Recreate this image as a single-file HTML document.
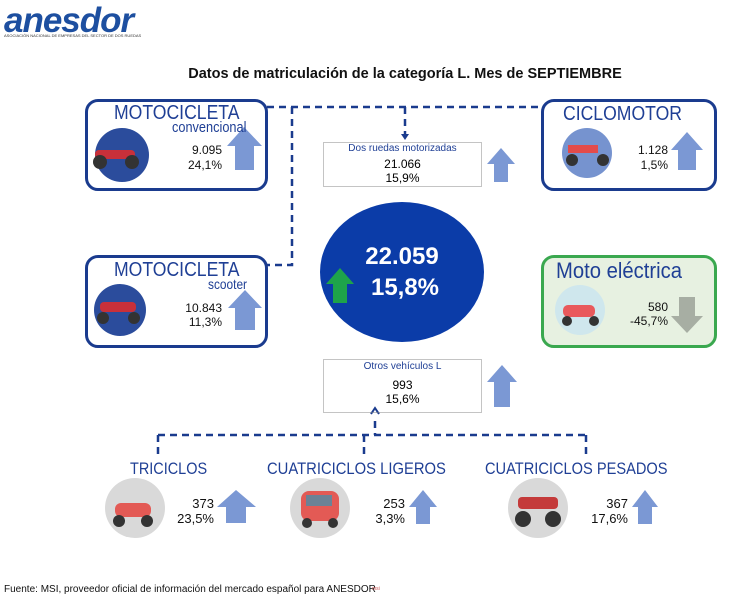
<!DOCTYPE html>
<html><head><meta charset="utf-8"><style>
body{margin:0;width:732px;height:600px;background:#fff;position:relative;overflow:hidden;font-family:"Liberation Sans",sans-serif}
.t{position:absolute;white-space:nowrap;line-height:1}
.box{position:absolute;border:3px solid #1a3b8e;border-radius:13px;box-sizing:border-box}
.blue{color:#1f3f95}
.num{font-size:12px;color:#111;text-align:right}
.c{transform:scaleX(0.85);transform-origin:0 0}
</style></head><body>
<div class="box" style="left:85px;top:99px;width:183px;height:92px"></div>
<div class="box" style="left:541px;top:99px;width:176px;height:92px"></div>
<div class="box" style="left:85px;top:255px;width:183px;height:93px"></div>
<div class="box" style="left:541px;top:255px;width:176px;height:93px;border-color:#3aa84f;background:#e7f1e1"></div>

<div class="t" style="left:4px;top:3px;font-size:35px;font-weight:bold;font-style:italic;color:#1d4fa0;letter-spacing:-1px">anesdor</div>
<div class="t" style="left:4px;top:34px;font-size:4px;color:#333">ASOCIACIÓN NACIONAL DE EMPRESAS DEL SECTOR DE DOS RUEDAS</div>
<div class="t" style="left:0;width:810px;text-align:center;top:67px;font-size:14.5px;font-weight:bold;color:#111">Datos de matriculación de la categoría L. Mes de SEPTIEMBRE</div>

<svg width="732" height="600" style="position:absolute;left:0;top:0">
<g stroke="#1a3b8e" stroke-width="2.5" stroke-dasharray="7,5" fill="none">
<path d="M267 107 H541"/><path d="M292 107 V265 H267"/><path d="M405 107 V134"/>
<path d="M375 421 V435"/><path d="M158 435 H586"/><path d="M158 435 V456"/><path d="M364 435 V456"/><path d="M586 435 V456"/>
</g>
<path d="M401 134 L405 140 L409 134" fill="#1a3b8e"/>
<path d="M371 414 L375 408 L379 414" stroke="#1a3b8e" stroke-width="2" fill="none"/>
<rect x="323.5" y="142.5" width="158" height="44" fill="none" stroke="#888" stroke-dasharray="1,1"/>
<rect x="323.5" y="359.5" width="158" height="53" fill="none" stroke="#888" stroke-dasharray="1,1"/>
<ellipse cx="402" cy="272" rx="82" ry="70" fill="#0b3ca8"/>
<path d="M340 268 L326 284 L333 284 L333 303 L347 303 L347 284 L354 284 Z" fill="#1ea34a"/>
<g fill="#7b98d4">
<path d="M244 127 L227 146 L235 146 L235 170 L254 170 L254 146 L262 146 Z"/>
<path d="M687 132 L671 150 L678 150 L678 170 L696 170 L696 150 L703 150 Z"/>
<path d="M245 290 L228 308 L235 308 L235 330 L255 330 L255 308 L262 308 Z"/>
<path d="M501 148 L487 164 L494 164 L494 182 L508 182 L508 164 L515 164 Z"/>
<path d="M502 365 L487 382 L494 382 L494 407 L510 407 L510 382 L517 382 Z"/>
<path d="M236 490 L217 507 L226 507 L226 523 L246 523 L246 507 L256 507 Z"/>
<path d="M423 490 L409 507 L416 507 L416 524 L430 524 L430 507 L437 507 Z"/>
<path d="M645 490 L632 507 L638 507 L638 524 L652 524 L652 507 L658 507 Z"/>
</g>
<path d="M679 297 L695 297 L695 316 L703 316 L687 333 L671 316 L679 316 Z" fill="#a7aea3"/>
<circle cx="122" cy="155" r="27" fill="#2b4c9c"/>
<rect x="95" y="150" width="40" height="9" rx="4" fill="#c8303a"/>
<circle cx="100" cy="162" r="7" fill="#333"/><circle cx="132" cy="162" r="7" fill="#333"/>
<circle cx="587" cy="153" r="25" fill="#7693cf"/>
<rect x="568" y="145" width="30" height="8" fill="#e34b4b"/><circle cx="572" cy="160" r="6" fill="#333"/><circle cx="603" cy="160" r="6" fill="#333"/>
<circle cx="120" cy="310" r="26" fill="#2b4c9c"/>
<rect x="100" y="302" width="36" height="10" rx="4" fill="#c8303a"/><circle cx="103" cy="318" r="6" fill="#333"/><circle cx="134" cy="318" r="6" fill="#333"/>
<circle cx="580" cy="310" r="25" fill="#cfe7ed"/>
<rect x="563" y="305" width="32" height="12" rx="5" fill="#e9595c"/><circle cx="567" cy="321" r="5" fill="#333"/><circle cx="594" cy="321" r="5" fill="#333"/>
<circle cx="135" cy="508" r="30" fill="#d9d9d9"/>
<rect x="115" y="503" width="36" height="14" rx="6" fill="#e35a55"/><circle cx="119" cy="521" r="6" fill="#333"/><circle cx="147" cy="521" r="6" fill="#333"/>
<circle cx="320" cy="508" r="30" fill="#d9d9d9"/>
<rect x="301" y="491" width="38" height="30" rx="8" fill="#e35a55"/><rect x="306" y="495" width="26" height="11" fill="#6b8296"/>
<circle cx="307" cy="523" r="5" fill="#333"/><circle cx="333" cy="523" r="5" fill="#333"/>
<circle cx="538" cy="508" r="30" fill="#d9d9d9"/>
<rect x="518" y="497" width="40" height="12" rx="4" fill="#c43a3a"/><circle cx="523" cy="519" r="8" fill="#333"/><circle cx="553" cy="519" r="8" fill="#333"/>
</svg>

<div class="t blue c" style="left:114px;top:103px;font-size:20px;transform:scaleX(0.88)">MOTOCICLETA</div>
<div class="t blue c" style="left:172px;top:120px;font-size:15px">convencional</div>
<div class="t num" style="left:170px;width:52px;top:144px">9.095</div>
<div class="t num" style="left:170px;width:52px;top:159px">24,1%</div>

<div class="t blue c" style="left:563px;top:104px;font-size:20px;transform:scaleX(0.88)">CICLOMOTOR</div>
<div class="t num" style="left:620px;width:48px;top:144px">1.128</div>
<div class="t num" style="left:620px;width:48px;top:159px">1,5%</div>

<div class="t blue c" style="left:114px;top:260px;font-size:20px;transform:scaleX(0.88)">MOTOCICLETA</div>
<div class="t blue c" style="left:208px;top:277px;font-size:14px">scooter</div>
<div class="t num" style="left:170px;width:52px;top:302px">10.843</div>
<div class="t num" style="left:170px;width:52px;top:316px">11,3%</div>

<div class="t blue c" style="left:556px;top:260px;font-size:22px;transform:scaleX(0.92)">Moto eléctrica</div>
<div class="t num" style="left:620px;width:48px;top:301px">580</div>
<div class="t num" style="left:610px;width:58px;top:315px">-45,7%</div>

<div class="t" style="left:323px;width:159px;text-align:center;top:144px;font-size:10px;color:#1f3f95">Dos ruedas motorizadas</div>
<div class="t" style="left:323px;width:159px;text-align:center;top:158px;font-size:12px">21.066</div>
<div class="t" style="left:323px;width:159px;text-align:center;top:172px;font-size:12px">15,9%</div>

<div class="t" style="left:340px;width:124px;text-align:center;top:245px;font-size:24px;font-weight:bold;color:#fff">22.059</div>
<div class="t" style="left:343px;width:124px;text-align:center;top:276px;font-size:24px;font-weight:bold;color:#fff">15,8%</div>

<div class="t" style="left:323px;width:159px;text-align:center;top:362px;font-size:10px;color:#1f3f95">Otros vehículos L</div>
<div class="t" style="left:323px;width:159px;text-align:center;top:379px;font-size:12px">993</div>
<div class="t" style="left:323px;width:159px;text-align:center;top:393px;font-size:12px">15,6%</div>

<div class="t blue c" style="left:130px;top:460px;font-size:17px">TRICICLOS</div>
<div class="t blue c" style="left:267px;top:460px;font-size:17px;transform:scaleX(0.87)">CUATRICICLOS LIGEROS</div>
<div class="t blue c" style="left:485px;top:460px;font-size:17px;transform:scaleX(0.86)">CUATRICICLOS PESADOS</div>

<div class="t num" style="left:160px;width:54px;top:497px;font-size:13px">373</div>
<div class="t num" style="left:160px;width:54px;top:512px;font-size:13px">23,5%</div>
<div class="t num" style="left:355px;width:50px;top:497px;font-size:13px">253</div>
<div class="t num" style="left:355px;width:50px;top:512px;font-size:13px">3,3%</div>
<div class="t num" style="left:575px;width:53px;top:497px;font-size:13px">367</div>
<div class="t num" style="left:575px;width:53px;top:512px;font-size:13px">17,6%</div>

<div class="t" style="left:4px;top:585px;font-size:10px;color:#111">Fuente: MSI, proveedor oficial de información del mercado español para ANESDOR</div>
<div class="t" style="left:372px;top:587px;font-size:5px;color:#c55">msi</div>
</body></html>
